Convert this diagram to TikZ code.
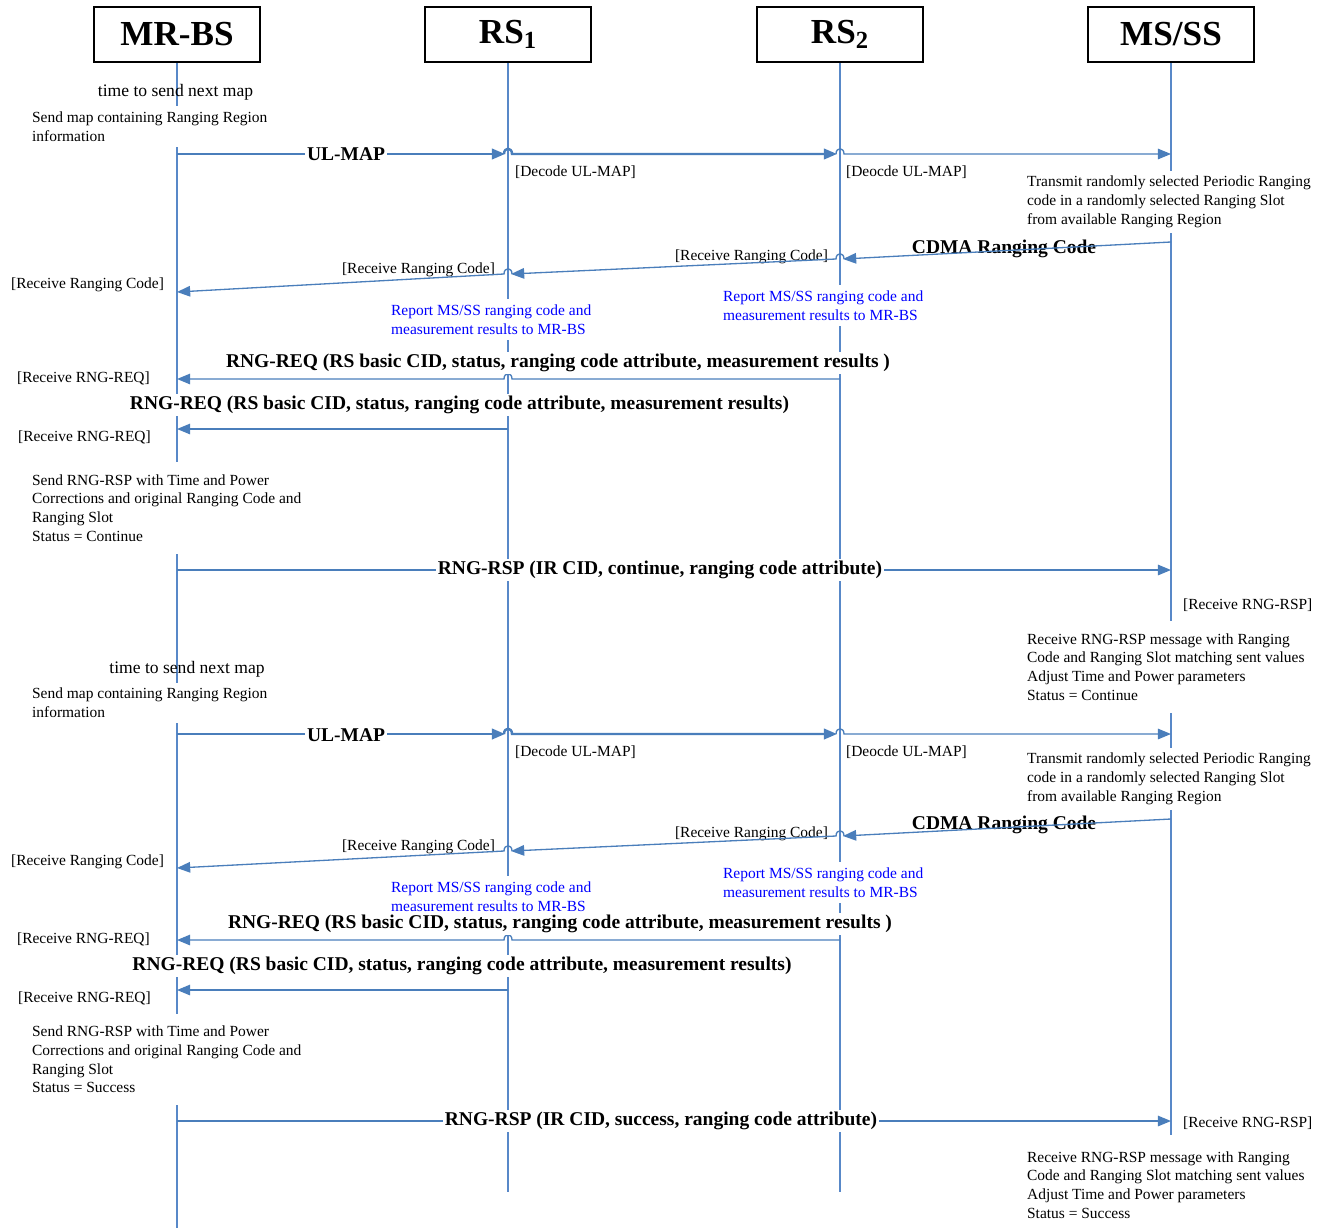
\documentclass[tikz,border=0pt]{standalone}
\usepackage{fontspec}
\setmainfont{Liberation Serif}
\usetikzlibrary{calc,arrows.meta}
\definecolor{lineblue}{RGB}{74,126,187}
\definecolor{lifeblue}{RGB}{88,136,200}
\tikzset{
	actor/.style={draw=black, line width=1.4pt, minimum width=3.32cm, minimum height=1.1cm, inner sep=0pt, font=\fontsize{20}{24}\selectfont\bfseries},
	life/.style={draw=lifeblue, line width=0.6pt},
	msg/.style={draw=lineblue, line width=0.75pt, -{Triangle[length=7.5pt,width=6pt]}},
	note/.style={fill=white, inner xsep=1pt, inner ysep=3pt, yshift=-1.1pt, align=left, font=\fontsize{8.8}{10.7}\selectfont},
	lbl/.style={fill=white, inner sep=1pt, yshift=-0.6pt, font=\fontsize{11.1}{13}\selectfont\bfseries}
}

\begin{document}
\begin{tikzpicture}[x=0.02cm,y=-0.02cm]
			%%%%% START %%%%%
			\useasboundingbox (0,0) rectangle (1327,1230);
			
			\node[actor] (mrbs) at (177,34.5) {MR-BS};
			\node[actor] (rsa) at (508,34.5) {RS\textsubscript{1}};
			\node[actor] (rsb) at (840,34.5) {RS\textsubscript{2}};
			\node[actor] (msss) at (1171,34.5) {MS/SS};
			
			\coordinate (endA) at (0,1228);
			\coordinate (endB) at (0,1192);
			\coordinate (endC) at (0,1135);
			\draw[life] (mrbs.south) -- (mrbs |- endA);
			\draw[life] (rsa.south) -- (rsa |- endB);
			\draw[life] (rsb.south) -- (rsb |- endB);
			\draw[life] (msss.south) -- (msss |- endC);
			
			% message rows
			\coordinate (ulA) at (0,154);
			\coordinate (cdA) at (0,242);
			\coordinate (rcA) at (0,259);
			\coordinate (rbA) at (0,274);
			\coordinate (rmA) at (0,292);
			\coordinate (rqA) at (0,379);
			\coordinate (rqB) at (0,429);
			\coordinate (rsA) at (0,570);
			\coordinate (ulB) at (0,734);
			\coordinate (cdB) at (0,819);
			\coordinate (rcB) at (0,836);
			\coordinate (rbB) at (0,851);
			\coordinate (rmB) at (0,868);
			\coordinate (rqC) at (0,940);
			\coordinate (rqD) at (0,990);
			\coordinate (rsB) at (0,1121);
			
			%%%%% FIRST ROUND %%%%%
			\node[font=\fontsize{10}{12}\selectfont, yshift=-1.1pt] (tnA) at (175.5,90) {time to send next map};
			\node[note, anchor=west] (smA) at (30,124.5) {Send map containing Ranging Region\\information};
			\node[note, anchor=west] (dcA) at (513,170) {[Decode UL-MAP]};
			\node[note, anchor=west] (ddA) at (844,170) {[Deocde UL-MAP]};
			\node[note, anchor=west] (trA) at (1025,200) {Transmit randomly selected Periodic Ranging\\code in a randomly selected Ranging Slot\\from available Ranging Region};
			\node[note, anchor=east] (rrcA) at (830,255) {[Receive Ranging Code]};
			\node[note, anchor=east] (rrbA) at (497,268) {[Receive Ranging Code]};
			\node[note, anchor=west] (rrmA) at (9,283) {[Receive Ranging Code]};
			\node[note, anchor=west, text=blue] (rpaA) at (389,317.5) {Report MS/SS ranging code and\\measurement results to MR-BS};
			\node[note, anchor=west, text=blue] (rpbA) at (721,303.5) {Report MS/SS ranging code and\\measurement results to MR-BS};
			\node[note, anchor=west] (rqmA) at (15,376) {[Receive RNG-REQ]};
			\node[note, anchor=west] (rqnA) at (16,435) {[Receive RNG-REQ]};
			\node[note, anchor=west, inner ysep=7pt] (srA) at (30,506) {Send RNG-RSP with Time and Power\\Corrections and original Ranging Code and\\Ranging Slot\\Status = Continue};
			\node[note, anchor=west] (rspA) at (1181,603) {[Receive RNG-RSP]};
			\node[note, anchor=west, inner ysep=7pt] (adA) at (1025,665) {Receive RNG-RSP message with Ranging\\Code and Ranging Slot matching sent values\\Adjust Time and Power parameters\\Status = Continue};
			
			\draw[msg, line width=1.4pt] (mrbs |- ulA) -- ($(rsa |- ulA)+(-3,0)$);
			\draw[msg, line width=1.4pt] ($(rsa |- ulA)+(-4,0)$) .. controls +(0,-7) and +(0,-7) .. ++(8,0) -- ($(rsb |- ulA)+(-3,0)$);
			\draw[msg] ($(rsb |- ulA)+(-4,0)$) .. controls +(0,-7) and +(0,-7) .. ++(8,0) -- (msss |- ulA);
			\node[lbl] (ulmapA) at (346,153) {UL-MAP};
			
			\node[lbl, fill=none] (cdmaA) at (1004,248) {CDMA Ranging Code};
			\draw[msg] (msss |- cdA) -- ($(rsb |- rcA)+(3,0)$);
			\draw[msg] ($(rsb |- rcA)+(4,0)$) .. controls +(0,-7) and +(0,-7) .. ++(-8,0) -- ($(rsa |- rbA)+(3,0)$);
			\draw[msg] ($(rsa |- rbA)+(4,0)$) .. controls +(0,-7) and +(0,-7) .. ++(-8,0) -- (mrbs |- rmA);
			
			\draw[msg] (rsb |- rqA) -- ($(rsa |- rqA)+(4,0)$) .. controls +(0,-7) and +(0,-7) .. ++(-8,0) -- (mrbs |- rqA);
			\node[lbl] (reqA) at (558,362) {RNG-REQ (RS basic CID, status, ranging code attribute, measurement results )};
			\draw[msg] (rsa |- rqB) -- (mrbs |- rqB);
			\node[lbl] (reqB) at (459.5,404) {RNG-REQ (RS basic CID, status, ranging code attribute, measurement results)};
			
			\draw[msg] (mrbs |- rsA) -- (msss |- rsA);
			\node[lbl] (rspmA) at (660,569) {RNG-RSP (IR CID, continue, ranging code attribute)};
			
			%%%%% SECOND ROUND %%%%%
			\node[font=\fontsize{10}{12}\selectfont, yshift=-1.1pt] (tnB) at (187,667) {time to send next map};
			\node[note, anchor=west] (smB) at (30,701) {Send map containing Ranging Region\\information};
			\node[note, anchor=west] (dcB) at (513,750) {[Decode UL-MAP]};
			\node[note, anchor=west] (ddB) at (844,750) {[Deocde UL-MAP]};
			\node[note, anchor=west] (trB) at (1025,777) {Transmit randomly selected Periodic Ranging\\code in a randomly selected Ranging Slot\\from available Ranging Region};
			\node[note, anchor=east] (rrcB) at (830,832) {[Receive Ranging Code]};
			\node[note, anchor=east] (rrbB) at (497,845) {[Receive Ranging Code]};
			\node[note, anchor=west] (rrmB) at (9,860) {[Receive Ranging Code]};
			\node[note, anchor=west, text=blue] (rpaB) at (389,894.5) {Report MS/SS ranging code and\\measurement results to MR-BS};
			\node[note, anchor=west, text=blue] (rpbB) at (721,880.5) {Report MS/SS ranging code and\\measurement results to MR-BS};
			\node[note, anchor=west] (rqmB) at (15,937) {[Receive RNG-REQ]};
			\node[note, anchor=west] (rqnB) at (16,996) {[Receive RNG-REQ]};
			\node[note, anchor=west, inner ysep=7pt] (srB) at (30,1057.5) {Send RNG-RSP with Time and Power\\Corrections and original Ranging Code and\\Ranging Slot\\Status = Success};
			\node[note, anchor=west] (rspB) at (1181,1121) {[Receive RNG-RSP]};
			\node[note, anchor=west, inner ysep=7pt] (adB) at (1025,1183) {Receive RNG-RSP message with Ranging\\Code and Ranging Slot matching sent values\\Adjust Time and Power parameters\\Status = Success};
			
			\draw[msg, line width=1.4pt] (mrbs |- ulB) -- ($(rsa |- ulB)+(-3,0)$);
			\draw[msg, line width=1.4pt] ($(rsa |- ulB)+(-4,0)$) .. controls +(0,-7) and +(0,-7) .. ++(8,0) -- ($(rsb |- ulB)+(-3,0)$);
			\draw[msg] ($(rsb |- ulB)+(-4,0)$) .. controls +(0,-7) and +(0,-7) .. ++(8,0) -- (msss |- ulB);
			\node[lbl] (ulmapB) at (346,734) {UL-MAP};
			
			\node[lbl, fill=none] (cdmaB) at (1004,824) {CDMA Ranging Code};
			\draw[msg] (msss |- cdB) -- ($(rsb |- rcB)+(3,0)$);
			\draw[msg] ($(rsb |- rcB)+(4,0)$) .. controls +(0,-7) and +(0,-7) .. ++(-8,0) -- ($(rsa |- rbB)+(3,0)$);
			\draw[msg] ($(rsa |- rbB)+(4,0)$) .. controls +(0,-7) and +(0,-7) .. ++(-8,0) -- (mrbs |- rmB);
			
			\draw[msg] (rsb |- rqC) -- ($(rsa |- rqC)+(4,0)$) .. controls +(0,-7) and +(0,-7) .. ++(-8,0) -- (mrbs |- rqC);
			\node[lbl] (reqC) at (560,923) {RNG-REQ (RS basic CID, status, ranging code attribute, measurement results )};
			\draw[msg] (rsa |- rqD) -- (mrbs |- rqD);
			\node[lbl] (reqD) at (462,965) {RNG-REQ (RS basic CID, status, ranging code attribute, measurement results)};
			
			\draw[msg] (mrbs |- rsB) -- (msss |- rsB);
			\node[lbl] (rspmB) at (661,1120) {RNG-RSP (IR CID, success, ranging code attribute)};
			%%%%% END %%%%%
\end{tikzpicture}
\end{document}
